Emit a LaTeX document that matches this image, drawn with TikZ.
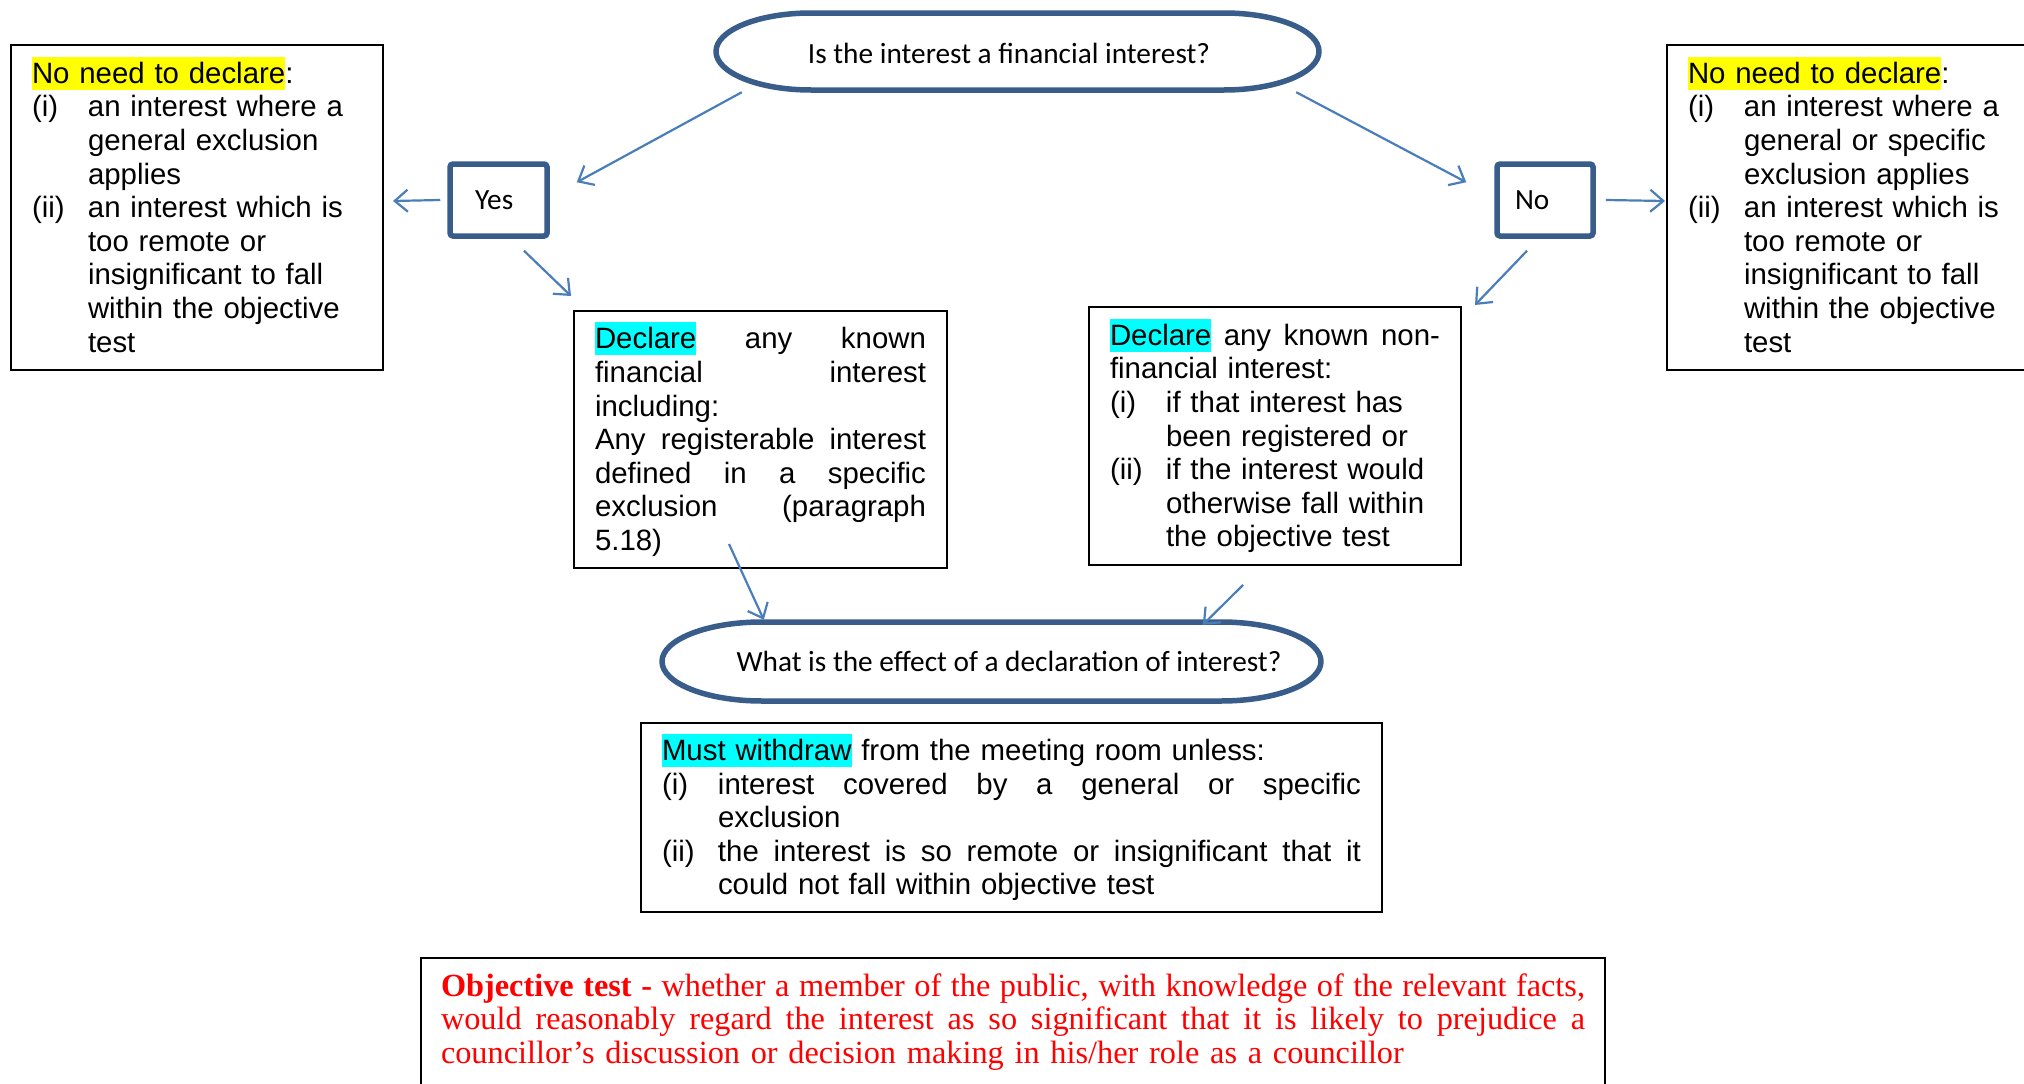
\documentclass[tikz,border=0pt]{standalone}
\usepackage{fontspec}
\usetikzlibrary{arrows.meta,calc}
\newfontfamily\arialf{Liberation Sans}
\newfontfamily\calf{Carlito}
\newfontfamily\tnrf{Liberation Serif}
\definecolor{outl}{HTML}{385D8A}
\definecolor{arrc}{HTML}{4A7EBB}
\definecolor{hly}{HTML}{FFFF00}
\definecolor{hlc}{HTML}{00FFFF}
\definecolor{redt}{HTML}{FF0000}
\newcommand\mystrut{\rule[-0.212em]{0pt}{1.117em}}
\newcommand\hlt[2]{{\setlength{\fboxsep}{0pt}\colorbox{#1}{\mystrut #2}}}
\newcommand\lbl[1]{\mystrut\makebox[56pt][l]{#1}}
\newcommand\ind{\mystrut\hspace*{56pt}}
\newcommand\jsp{\spaceskip=\fontdimen2\font plus 1fil minus .35\fontdimen2\font\relax}
\newcommand\jst[2]{\leavevmode\mystrut\hbox to #1{\jsp #2}}
\newcommand\jstn[2]{\leavevmode\hbox to #1{\jsp #2}}
\newcommand\jsti[3]{\leavevmode\mystrut\makebox[56pt][l]{#2}\hbox to #1{\jsp #3}}
\begin{document}
\begin{tikzpicture}[x=1pt,y=-1pt,
  txtbox/.style={draw=black, line width=2pt, anchor=north west, inner xsep=21pt, inner ysep=0pt,
    align=left, font=\arialf\fontsize{29.4}{33.6}\selectfont},
  ynbox/.style={draw=outl, line width=5.5pt, rounded corners=3pt, minimum height=72pt,
    align=left, inner ysep=0pt, font=\calf\fontsize{29.3}{33.6}\selectfont},
  qtext/.style={inner sep=0pt, font=\calf\fontsize{29.3}{33.6}\selectfont},
  qline/.style={draw=outl, line width=5.5pt, line join=round},
  arr/.style={draw=arrc, line width=2.2pt, -{Straight Barb[length=13pt,width=22pt]}}]
\useasboundingbox (0,0) rectangle (2024,1084);
\fill[white] (0,0) rectangle (2024,1084);

% question shapes
\node[qtext, minimum width=603pt, minimum height=77pt] (q1) at (1009,53) {Is the interest a financial interest?};
\draw[qline] (811,13) -- (1224,13) .. controls (1276.5,13) and (1319,30.2) .. (1319,51.5)
  .. controls (1319,72.8) and (1276.5,90) .. (1224,90) -- (811,90)
  .. controls (758.5,90) and (716,72.8) .. (716,51.5)
  .. controls (716,30.2) and (758.5,13) .. (811,13) -- cycle;

\node[qtext, minimum width=659pt, minimum height=79pt] (q2) at (1009,661) {What is the effect of a declaration of interest?};
\draw[qline] (762,622) -- (1221,622) .. controls (1276.2,622) and (1321,639.7) .. (1321,661.5)
  .. controls (1321,683.3) and (1276.2,701) .. (1221,701) -- (762,701)
  .. controls (706.8,701) and (662,683.3) .. (662,661.5)
  .. controls (662,639.7) and (706.8,622) .. (762,622) -- cycle;

% yes / no
\node[ynbox, text width=47pt, inner xsep=25pt] (yes) at (498.5,200) {Yes};
\node[ynbox, text width=60pt, inner xsep=18pt] (no) at (1545,200) {No};

% side boxes
\node[txtbox, minimum width=372pt, minimum height=325pt, text width=330pt] (lbox) at (10,44) {\hlt{hly}{No need to declare}:\\
\lbl{(i)}an interest where a\\
\ind general exclusion\\
\ind applies\\
\lbl{(ii)}an interest which is\\
\ind too remote or\\
\ind insignificant to fall\\
\ind within the objective\\
\ind test};

\node[txtbox, minimum width=372pt, minimum height=325pt, text width=330pt] (rbox) at (1666,44) {\hlt{hly}{No need to declare}:\\
\lbl{(i)}an interest where a\\
\ind general or specific\\
\ind exclusion applies\\
\lbl{(ii)}an interest which is\\
\ind too remote or\\
\ind insignificant to fall\\
\ind within the objective\\
\ind test};

% declare boxes
\node[txtbox, minimum width=373pt, minimum height=257pt, text width=331pt] (dl) at (573,310) {\jst{331pt}{\hlt{hlc}{Declare} any known}\\
\jst{331pt}{financial interest}\\
\mystrut including:\\
\jst{331pt}{Any registerable interest}\\
\jst{331pt}{defined in a specific}\\
\jst{331pt}{exclusion (paragraph}\\
\mystrut 5.18)};

\node[txtbox, minimum width=372pt, minimum height=258pt, text width=330pt] (dr) at (1088,306) {\jst{330pt}{\hlt{hlc}{Declare} any known non-}\\
\mystrut financial interest:\\
\lbl{(i)}if that interest has\\
\ind been registered or\\
\lbl{(ii)}if the interest would\\
\ind otherwise fall within\\
\ind the objective test};

% must withdraw
\node[txtbox, minimum width=741pt, minimum height=189pt, text width=699pt] (mw) at (640,722) {\hlt{hlc}{Must withdraw} from the meeting room unless:\\
\jsti{643pt}{(i)}{interest covered by a general or specific}\\
\ind exclusion\\
\jsti{643pt}{(ii)}{the interest is so remote or insignificant that it}\\
\ind could not fall within objective test};

% objective test
\node[txtbox, inner xsep=20pt, inner ysep=12pt, minimum width=1184pt, text width=1144pt,
  text=redt, font=\tnrf\fontsize{32.3}{33.6}\selectfont] (ot) at (420,957) {\rule{0pt}{26pt}\jstn{1144pt}{\textbf{Objective test -} whether a member of the public, with knowledge of the relevant facts,}\\
\jstn{1144pt}{would reasonably regard the interest as so significant that it is likely to prejudice a}\\
councillor’s discussion or decision making in his/her role as a councillor\rule[-80pt]{0pt}{0pt}};

% connectors
\draw[arr] ($(q1.south west)+(34.5,0.5)$) -- ($(yes.north east)+(27,21)$);
\draw[arr] ($(yes.west)+(-7,0)$) -- ($(lbox.east)+(9,-6.5)$);
\draw[arr] ($(yes.south)+(25.5,12)$) -- ($(dl.north west)+(-2,-14)$);
\draw[arr] ($(q1.south east)+(-14.5,0.5)$) -- ($(no.north west)+(-28,21)$);
\draw[arr] ($(no.east)+(10,0)$) -- ($(rbox.west)+(-1,-6.5)$);
\draw[arr] ($(no.south)+(-18,12)$) -- ($(dr.north east)+(13,-1)$);
\draw[arr] ($(dl.south west)+(156,-25)$) -- ($(q2.north west)+(84.5,-1.5)$);
\draw[arr] ($(dr.south west)+(155,19)$) -- ($(q2.north west)+(523.5,3.5)$);
\end{tikzpicture}
\end{document}
